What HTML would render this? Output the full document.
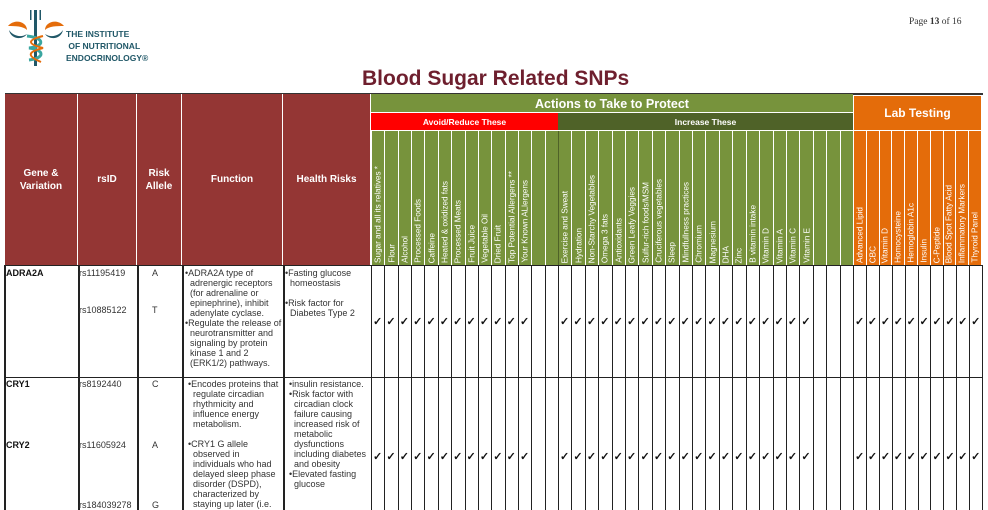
<!DOCTYPE html>
<html><head><meta charset="utf-8"><style>
*{margin:0;padding:0;box-sizing:border-box}
body{width:988px;height:510px;overflow:hidden;background:#fff;font-family:"Liberation Sans",sans-serif;position:relative}
.a{position:absolute}
.hd{background:#943634;color:#fff;font-weight:bold;font-size:10px;display:flex;align-items:center;justify-content:center;text-align:center;line-height:13px;border-right:1.5px solid #fff}
.grp{display:flex;position:absolute}
.grp div{flex:1;height:100%}
.lab div{border-left:1.5px solid #fff;position:relative}
.lab span{position:absolute;bottom:2px;left:50%;writing-mode:vertical-rl;transform:translateX(-50%) rotate(180deg);font-size:8.2px;color:#fff;white-space:nowrap;line-height:11px}
.body div{border-left:1.5px solid #222;position:relative}
.body .c::after{content:"✓";position:absolute;left:1px;font-size:11px;font-weight:bold;color:#111}
.r1 .c::after{top:50px}
.r2 .c::after{top:73px}
.t{position:absolute;font-size:9px;line-height:10px;color:#333}
.b{font-weight:bold;color:#111}
</style></head><body>
<svg class="a" style="left:5px;top:8px" width="62" height="62" viewBox="0 0 62 62">
<path d="M3 18 C10 10 22 14 22 22 C18 18 10 18 3 18Z" fill="#e46c0a"/>
<path d="M59 18 C52 10 40 14 40 22 C44 18 52 18 59 18Z" fill="#e46c0a"/>
<path d="M4 22 C6 32 18 32 22 26 C16 30 8 28 4 22Z" fill="#215868"/>
<path d="M58 22 C56 32 44 32 40 26 C46 30 54 28 58 22Z" fill="#215868"/>
<rect x="29" y="2" width="3" height="56" fill="#215868"/>
<rect x="25" y="2" width="1.5" height="10" fill="#215868"/><rect x="34.5" y="2" width="1.5" height="10" fill="#215868"/>
<path d="M22 28 C40 30 40 38 24 40 C40 42 40 50 24 52" stroke="#3aa6a0" stroke-width="3" fill="none"/>
<path d="M38 28 C22 32 22 36 38 40 C22 44 22 48 36 54" stroke="#e46c0a" stroke-width="2" fill="none"/>
</svg>
<div class="a" style="left:66px;top:28px;font-size:8.5px;font-weight:bold;color:#215868;line-height:12px">THE INSTITUTE<br>&nbsp;OF NUTRITIONAL<br>ENDOCRINOLOGY®</div>
<div class="a" style="left:909px;top:17px;font-family:'Liberation Serif',serif;font-size:9.5px;color:#333">Page <b>13</b> of 16</div>
<div class="a" style="left:362px;top:67px;font-size:21px;font-weight:bold;color:#6e1f2e">Blood Sugar Related SNPs</div>

<div class="a" style="left:5px;top:93px;width:978px;height:1.5px;background:#333"></div>
<div class="a hd" style="left:5px;top:94px;width:73px;height:171px">Gene &amp;<br>Variation</div>
<div class="a hd" style="left:78px;top:94px;width:59px;height:171px">rsID</div>
<div class="a hd" style="left:137px;top:94px;width:45px;height:171px">Risk<br>Allele</div>
<div class="a hd" style="left:182px;top:94px;width:101px;height:171px">Function</div>
<div class="a hd" style="left:283px;top:94px;width:88px;height:171px">Health Risks</div>

<div class="a" style="left:371px;top:94px;width:482px;height:19px;background:#77933c;color:#fff;font-weight:bold;font-size:12.5px;text-align:center;line-height:21px;border-bottom:1.5px solid #fff">Actions to Take to Protect</div>
<div class="a" style="left:371px;top:113px;width:187px;height:17px;background:#ff0000;color:#fff;font-weight:bold;font-size:8.5px;text-align:center;line-height:18px">Avoid/Reduce These</div>
<div class="a" style="left:558px;top:113px;width:295px;height:17px;background:#4f6228;color:#fff;font-weight:bold;font-size:8.5px;text-align:center;line-height:18px">Increase These</div>
<div class="a" style="left:853px;top:96px;width:128px;height:34px;background:#e46c0a;color:#fff;font-weight:bold;font-size:12px;text-align:center;line-height:34px;border-left:1.5px solid #fff">Lab Testing</div>

<div class="grp lab" style="left:371px;top:130px;width:187px;height:135px;background:#77933c;border-top:1.5px solid #fff">
<div><span>Sugar and all its relatives *</span></div><div><span>Flour</span></div><div><span>Alcohol</span></div><div><span>Processed Foods</span></div><div><span>Caffeine</span></div><div><span>Heated &amp; oxidized fats</span></div><div><span>Processed Meats</span></div><div><span>Fruit Juice</span></div><div><span>Vegetable Oil</span></div><div><span>Dried Fruit</span></div><div><span>Top Potential Allergens **</span></div><div><span>Your Known ALlergens</span></div><div></div><div></div>
</div>
<div class="grp lab" style="left:558px;top:130px;width:295px;height:135px;background:#77933c;border-top:1.5px solid #fff">
<div style="border-left-color:#4f6228"><span>Exercise and Sweat</span></div><div><span>Hydration</span></div><div><span>Non-Starchy Vegetables</span></div><div><span>Omega 3 fats</span></div><div><span>Antioxidants</span></div><div><span>Green Leafy Veggies</span></div><div><span>Sulfur-rich foods/MSM</span></div><div><span>Cruciferous vegetables</span></div><div><span>Sleep</span></div><div><span>Mindfullness practices</span></div><div><span>Chromium</span></div><div><span>Magnesium</span></div><div><span>DHA</span></div><div><span>Zinc</span></div><div><span>B vitamin intake</span></div><div><span>Vitamin D</span></div><div><span>Vitamin A</span></div><div><span>Vitamin C</span></div><div><span>Vitamin E</span></div><div></div><div></div><div></div>
</div>
<div class="grp lab" style="left:853px;top:130px;width:128px;height:135px;background:#e46c0a;border-top:1.5px solid #fff">
<div><span>Advanced Lipid</span></div><div><span>CBC</span></div><div><span>Vitamin D</span></div><div><span>Homocysteine</span></div><div><span>Hemoglobin A1c</span></div><div><span>Insulin</span></div><div><span>C-Peptide</span></div><div><span>Blood Spot Fatty Acid</span></div><div><span>Inflammatory Markers</span></div><div><span>Thyroid Panel</span></div>
</div>

<div class="grp body r1" style="left:371px;top:265px;width:187px;height:112px"><div class="c"></div><div class="c"></div><div class="c"></div><div class="c"></div><div class="c"></div><div class="c"></div><div class="c"></div><div class="c"></div><div class="c"></div><div class="c"></div><div class="c"></div><div class="c"></div><div></div><div></div></div>
<div class="grp body r1" style="left:558px;top:265px;width:295px;height:112px"><div class="c"></div><div class="c"></div><div class="c"></div><div class="c"></div><div class="c"></div><div class="c"></div><div class="c"></div><div class="c"></div><div class="c"></div><div class="c"></div><div class="c"></div><div class="c"></div><div class="c"></div><div class="c"></div><div class="c"></div><div class="c"></div><div class="c"></div><div class="c"></div><div class="c"></div><div></div><div></div><div></div></div>
<div class="grp body r1" style="left:853px;top:265px;width:130px;height:112px;border-right:1.5px solid #222"><div class="c"></div><div class="c"></div><div class="c"></div><div class="c"></div><div class="c"></div><div class="c"></div><div class="c"></div><div class="c"></div><div class="c"></div><div class="c"></div></div>
<div class="grp body r2" style="left:371px;top:377px;width:187px;height:133px"><div class="c"></div><div class="c"></div><div class="c"></div><div class="c"></div><div class="c"></div><div class="c"></div><div class="c"></div><div class="c"></div><div class="c"></div><div class="c"></div><div class="c"></div><div class="c"></div><div></div><div></div></div>
<div class="grp body r2" style="left:558px;top:377px;width:295px;height:133px"><div class="c"></div><div class="c"></div><div class="c"></div><div class="c"></div><div class="c"></div><div class="c"></div><div class="c"></div><div class="c"></div><div class="c"></div><div class="c"></div><div class="c"></div><div class="c"></div><div class="c"></div><div class="c"></div><div class="c"></div><div class="c"></div><div class="c"></div><div class="c"></div><div class="c"></div><div></div><div></div><div></div></div>
<div class="grp body r2" style="left:853px;top:377px;width:130px;height:133px;border-right:1.5px solid #222"><div class="c"></div><div class="c"></div><div class="c"></div><div class="c"></div><div class="c"></div><div class="c"></div><div class="c"></div><div class="c"></div><div class="c"></div><div class="c"></div></div>

<div class="a" style="left:4px;top:265px;width:2px;height:245px;background:#222"></div>
<div class="a" style="left:78px;top:265px;width:1.5px;height:245px;background:#222"></div>
<div class="a" style="left:137px;top:265px;width:1.5px;height:245px;background:#222"></div>
<div class="a" style="left:182px;top:265px;width:1.5px;height:245px;background:#222"></div>
<div class="a" style="left:283px;top:265px;width:1.5px;height:245px;background:#222"></div>
<div class="a" style="left:4px;top:264.5px;width:979px;height:1.5px;background:#222"></div>
<div class="a" style="left:4px;top:376.5px;width:979px;height:1.5px;background:#222"></div>

<div class="t b" style="left:6px;top:268px">ADRA2A</div>
<div class="t" style="left:79px;top:268px">rs11195419</div>
<div class="t" style="left:79px;top:305px">rs10885122</div>
<div class="t" style="left:152px;top:268px">A</div>
<div class="t" style="left:152px;top:305px">T</div>
<div class="t" style="left:185px;top:268px">•ADRA2A type of<br>&nbsp;&nbsp;adrenergic receptors<br>&nbsp;&nbsp;(for adrenaline or<br>&nbsp;&nbsp;epinephrine), inhibit<br>&nbsp;&nbsp;adenylate cyclase.<br>•Regulate the release of<br>&nbsp;&nbsp;neurotransmitter and<br>&nbsp;&nbsp;signaling by protein<br>&nbsp;&nbsp;kinase 1 and 2<br>&nbsp;&nbsp;(ERK1/2) pathways.</div>
<div class="t" style="left:285px;top:268px">•Fasting glucose<br>&nbsp;&nbsp;homeostasis<br><br>•Risk factor for<br>&nbsp;&nbsp;Diabetes Type 2</div>

<div class="t b" style="left:6px;top:379px">CRY1</div>
<div class="t b" style="left:6px;top:440px">CRY2</div>
<div class="t" style="left:79px;top:379px">rs8192440</div>
<div class="t" style="left:79px;top:440px">rs11605924</div>
<div class="t" style="left:79px;top:500px">rs184039278</div>
<div class="t" style="left:152px;top:379px">C</div>
<div class="t" style="left:152px;top:440px">A</div>
<div class="t" style="left:152px;top:500px">G</div>
<div class="t" style="left:188px;top:379px">•Encodes proteins that<br>&nbsp;&nbsp;regulate circadian<br>&nbsp;&nbsp;rhythmicity and<br>&nbsp;&nbsp;influence energy<br>&nbsp;&nbsp;metabolism.<br><br>•CRY1 G allele<br>&nbsp;&nbsp;observed in<br>&nbsp;&nbsp;individuals who had<br>&nbsp;&nbsp;delayed sleep phase<br>&nbsp;&nbsp;disorder (DSPD),<br>&nbsp;&nbsp;characterized by<br>&nbsp;&nbsp;staying up later (i.e.</div>
<div class="t" style="left:289px;top:379px">•insulin resistance.<br>•Risk factor with<br>&nbsp;&nbsp;circadian clock<br>&nbsp;&nbsp;failure causing<br>&nbsp;&nbsp;increased risk of<br>&nbsp;&nbsp;metabolic<br>&nbsp;&nbsp;dysfunctions<br>&nbsp;&nbsp;including diabetes<br>&nbsp;&nbsp;and obesity<br>•Elevated fasting<br>&nbsp;&nbsp;glucose</div>
</body></html>
